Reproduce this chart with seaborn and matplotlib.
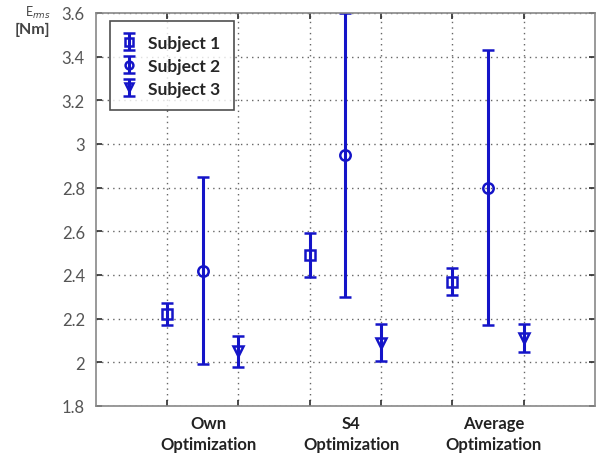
import numpy as np
import pandas as pd
import matplotlib
matplotlib.use("Agg")
import matplotlib.pyplot as plt
import seaborn as sns

# data
groups = ["Own\nOptimization", "S4\nOptimization", "Average\nOptimization"]
subjects = ["Subject 1", "Subject 2", "Subject 3"]
mean_s1 = [2.22, 2.49, 2.37]
err_s1 = [0.05, 0.10, 0.06]
mean_s2 = [2.42, 2.95, 2.80]
err_s2 = [0.43, 0.65, 0.63]
mean_s3 = [2.05, 2.09, 2.11]
err_s3 = [0.07, 0.085, 0.065]

rows = []
for s, (means, errs) in enumerate(zip([mean_s1, mean_s2, mean_s3], [err_s1, err_s2, err_s3])):
    for g in range(len(groups)):
        rows.append({"subject": subjects[s], "group": g, "s": s, "mean": means[g], "err": errs[g]})
df = pd.DataFrame(rows)
df["x"] = 2 * df["group"] + 1 + 0.5 * df["s"]

sns.set_theme(style="white")
plt.rcParams["font.family"] = ["Lato", "DejaVu Sans"]

blue = "#1414c8"
markers = {"Subject 1": "s", "Subject 2": "o", "Subject 3": "v"}

fig = plt.figure(figsize=(5.96, 4.56), dpi=100)
ax = fig.add_axes([0.161, 0.1075, 0.837, 0.862])

for subj in subjects:
    d = df[df["subject"] == subj]
    ax.errorbar(d["x"], d["mean"], yerr=d["err"], fmt=markers[subj], color=blue,
                mfc="none", mec=blue, mew=1.8, ms=7.5, elinewidth=2.2, capsize=4,
                capthick=2, label=subj)

ax.set_xlim(0, 7)
ax.set_ylim(1.8, 3.6)
ax.set_xticks(range(1, 7))
ax.set_xticklabels([])
ax.set_yticks(np.arange(1.8, 3.61, 0.2))
ax.set_yticklabels(["1.8", "2", "2.2", "2.4", "2.6", "2.8", "3", "3.2", "3.4", "3.6"])
ax.tick_params(axis="both", direction="in", length=4, color="#333333",
               top=True, bottom=True, left=True, right=True, labelsize=12,
               labelcolor="#555555")
ax.tick_params(axis="y", pad=8)
ax.grid(True, linestyle=(0, (1, 3)), color="#666666", linewidth=1)
for sp in ax.spines.values():
    sp.set_color("#888888")
    sp.set_linewidth(1.2)

for g, name in enumerate(groups):
    ax.text(2 * g + 1.58, 1.757, name, ha="center", va="top", fontsize=12,
            fontweight="bold", color="#222222", linespacing=1.35)

fig.text(0.042, 0.99, r"E$_{rms}$", ha="left", va="top", fontsize=9, color="#444444")
fig.text(0.025, 0.95, "[Nm]", ha="left", va="top", fontsize=11.5,
         fontweight="bold", color="#444444")

leg = ax.legend(loc="upper left", bbox_to_anchor=(0.028, 0.98), frameon=True,
                fancybox=False, edgecolor="#222222", handlelength=0.6,
                handletextpad=0.8, borderpad=0.8, labelspacing=0.4,
                borderaxespad=0, markerscale=0.75, prop={"weight": "bold", "size": 12.5})
leg.get_frame().set_linewidth(1.2)

fig.savefig("out.png", dpi=100)
